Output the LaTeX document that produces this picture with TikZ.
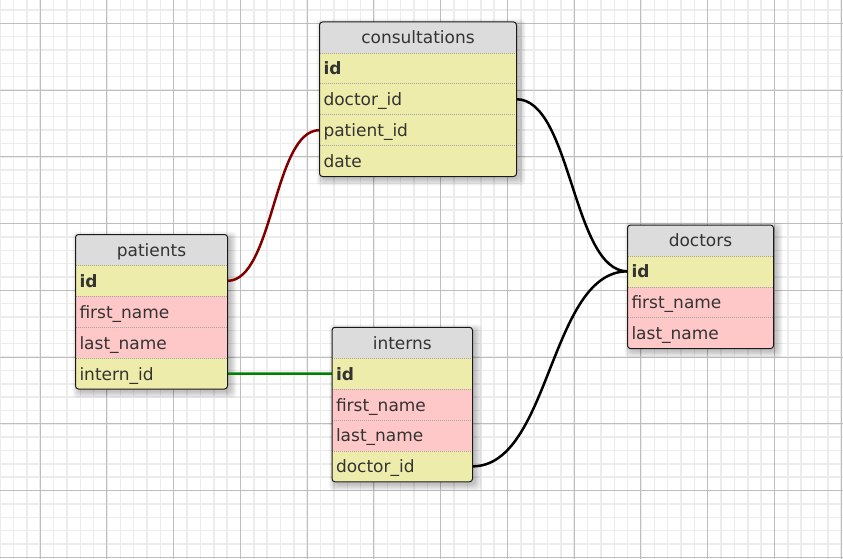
\documentclass[tikz,border=0pt]{standalone}
\usepackage{fontspec}
\setmainfont{DejaVu Sans}
\definecolor{hdrgray}{RGB}{220,220,220}
\definecolor{keyyellow}{RGB}{238,236,170}
\definecolor{attrpink}{RGB}{255,200,200}
\definecolor{txtgray}{RGB}{51,51,51}
\definecolor{gridminor}{RGB}{236,236,236}
\definecolor{gridmajor}{RGB}{190,190,190}
\definecolor{linkred}{RGB}{128,0,0}
\definecolor{linkgreen}{RGB}{0,128,0}
\definecolor{sepgray}{RGB}{165,165,165}
\definecolor{framecol}{RGB}{25,25,25}
\pgfdeclarelayer{gridlayer}
\pgfdeclarelayer{shadowlayer}
\pgfdeclarelayer{linklayer}
\pgfsetlayers{gridlayer,shadowlayer,linklayer,main}
\tikzset{
  cell/.style={rectangle, inner xsep=4pt, inner ysep=0pt, outer sep=0pt,
    minimum height=30.9pt, text height=13.5pt, text depth=0.5pt,
    anchor=north west, text=txtgray, font=\fontsize{17pt}{20pt}\selectfont, align=left},
  hdrcell/.style={cell, fill=hdrgray, align=center},
  keycell/.style={cell, fill=keyyellow},
  attrcell/.style={cell, fill=attrpink},
  sepline/.style={sepgray, line width=0.6pt, dash pattern=on 1pt off 1pt},
  tblframe/.style={framecol, line width=1pt, rounded corners=3pt},
  tblshade/.style={black, opacity=0.035, rounded corners=4pt},
  link/.style={line width=2.5pt},
  minorline/.style={gridminor, line width=1.5pt},
  majorline/.style={gridmajor, line width=1pt}
}
\begin{document}
\begin{tikzpicture}[x=1pt,y=-1pt]
\useasboundingbox (0,0) rectangle (843,559);
\begin{pgfonlayer}{gridlayer}
  \fill[white] (0,0) rectangle (843,559);
  \foreach \k in {-3,...,60}{\draw[minorline] ({40.2+13.35*\k},0) -- ({40.2+13.35*\k},559);}
  \foreach \k in {-1,...,40}{\draw[minorline] (0,{23.3+13.35*\k}) -- (843,{23.3+13.35*\k});}
  \foreach \k in {0,5,...,60}{\draw[majorline] ({40.2+13.35*\k},0) -- ({40.2+13.35*\k},559);}
  \foreach \k in {0,5,...,40}{\draw[majorline] (0,{23.3+13.35*\k}) -- (843,{23.3+13.35*\k});}
\end{pgfonlayer}

% consultations
\begin{scope}
  \clip[rounded corners=3pt] (319.5,22) rectangle +(197,154.5);
  \node[hdrcell, text width=189pt] (c-h) at (319.5,22) {consultations};
  \node[keycell, text width=189pt] (c-id) at (c-h.south west) {\textbf{id}};
  \node[keycell, text width=189pt] (c-did) at (c-id.south west) {doctor\_id};
  \node[keycell, text width=189pt] (c-pid) at (c-did.south west) {patient\_id};
  \node[keycell, text width=189pt] (c-date) at (c-pid.south west) {date};
\end{scope}
\draw[sepline] (c-h.south west) -- (c-h.south east);
\draw[sepline] (c-id.south west) -- (c-id.south east);
\draw[sepline] (c-did.south west) -- (c-did.south east);
\draw[sepline] (c-pid.south west) -- (c-pid.south east);
\draw[tblframe] (c-h.north west) rectangle (c-date.south east);

% patients
\begin{scope}
  \clip[rounded corners=3pt] (75.5,234.5) rectangle +(152,154.5);
  \node[hdrcell, text width=144pt] (p-h) at (75.5,234.5) {patients};
  \node[keycell, text width=144pt] (p-id) at (p-h.south west) {\textbf{id}};
  \node[attrcell, text width=144pt] (p-fn) at (p-id.south west) {first\_name};
  \node[attrcell, text width=144pt] (p-ln) at (p-fn.south west) {last\_name};
  \node[keycell, text width=144pt] (p-iid) at (p-ln.south west) {intern\_id};
\end{scope}
\draw[sepline] (p-h.south west) -- (p-h.south east);
\draw[sepline] (p-id.south west) -- (p-id.south east);
\draw[sepline] (p-fn.south west) -- (p-fn.south east);
\draw[sepline] (p-ln.south west) -- (p-ln.south east);
\draw[tblframe] (p-h.north west) rectangle (p-iid.south east);

% interns
\begin{scope}
  \clip[rounded corners=3pt] (332,327.3) rectangle +(140.5,154.5);
  \node[hdrcell, text width=132.5pt] (i-h) at (332,327.3) {interns};
  \node[keycell, text width=132.5pt] (i-id) at (i-h.south west) {\textbf{id}};
  \node[attrcell, text width=132.5pt] (i-fn) at (i-id.south west) {first\_name};
  \node[attrcell, text width=132.5pt] (i-ln) at (i-fn.south west) {last\_name};
  \node[keycell, text width=132.5pt] (i-did) at (i-ln.south west) {doctor\_id};
\end{scope}
\draw[sepline] (i-h.south west) -- (i-h.south east);
\draw[sepline] (i-id.south west) -- (i-id.south east);
\draw[sepline] (i-fn.south west) -- (i-fn.south east);
\draw[sepline] (i-ln.south west) -- (i-ln.south east);
\draw[tblframe] (i-h.north west) rectangle (i-did.south east);

% doctors
\begin{scope}
  \clip[rounded corners=3pt] (627.5,225) rectangle +(146,123.6);
  \node[hdrcell, text width=138pt] (d-h) at (627.5,225) {doctors};
  \node[keycell, text width=138pt] (d-id) at (d-h.south west) {\textbf{id}};
  \node[attrcell, text width=138pt] (d-fn) at (d-id.south west) {first\_name};
  \node[attrcell, text width=138pt] (d-ln) at (d-fn.south west) {last\_name};
\end{scope}
\draw[sepline] (d-h.south west) -- (d-h.south east);
\draw[sepline] (d-id.south west) -- (d-id.south east);
\draw[sepline] (d-fn.south west) -- (d-fn.south east);
\draw[tblframe] (d-h.north west) rectangle (d-ln.south east);

% shadows
\begin{pgfonlayer}{shadowlayer}
  \foreach \s in {0,...,6}{
    \fill[tblshade] ([shift={(3-\s,3-\s)}]c-h.north west) rectangle ([shift={(3+\s,3+\s)}]c-date.south east);
    \fill[tblshade] ([shift={(3-\s,3-\s)}]p-h.north west) rectangle ([shift={(3+\s,3+\s)}]p-iid.south east);
    \fill[tblshade] ([shift={(3-\s,3-\s)}]i-h.north west) rectangle ([shift={(3+\s,3+\s)}]i-did.south east);
    \fill[tblshade] ([shift={(3-\s,3-\s)}]d-h.north west) rectangle ([shift={(3+\s,3+\s)}]d-ln.south east);
  }
\end{pgfonlayer}

% connectors
\begin{pgfonlayer}{linklayer}
  \draw[link, linkred] (p-id.east) .. controls +(46,0) and +(-46,0) .. (c-pid.west);
  \draw[link, linkgreen] (p-iid.east) -- (i-id.west);
  \draw[link, black] (c-did.east) .. controls +(55,0) and +(-55,0) .. (d-id.west);
  \draw[link, black] (i-did.east) .. controls +(78,0) and +(-78,0) .. (d-id.west);
\end{pgfonlayer}
\end{tikzpicture}
\end{document}
